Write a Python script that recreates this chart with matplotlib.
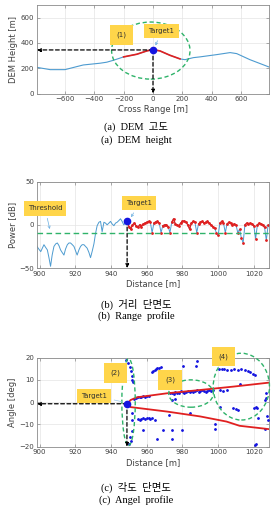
import numpy as np
import matplotlib
matplotlib.use('Agg')
import matplotlib.pyplot as plt
from matplotlib.patches import Ellipse

# ---------------------------------------------------------------------------
# Data
# ---------------------------------------------------------------------------
# (a) DEM height profile
dem_x = [-790, -700, -600, -475, -360, -315, -270, -200, -110, -43, 0,
         48, 115, 184, 218, 275, 320, 434, 525, 570, 660, 790]
dem_h = [207, 189, 189, 226, 240, 248, 263, 290, 311, 337, 348,
         337, 303, 274, 268, 284, 290, 308, 324, 316, 268, 210]
dem_red = (-200, 184)
target_a = (0, 345)

# (b) range profile
rng_blue_x = [898.5, 899.5, 900.6, 901.5, 902.4, 903.3, 904.3, 905.2, 906.1,
              907, 908, 909, 909.9, 910.8, 911.7, 912.6, 913.6, 914.5, 915.5,
              916.4, 917.3, 918.3, 919.2, 920.1, 921, 922, 922.9, 923.8,
              924.8, 925.7, 926.6, 927.6, 928.5, 929.5, 930.4, 931.3, 932.2,
              933.2, 934.1, 935, 936, 936.9, 937.8, 938.8, 939.7, 940.6,
              941.6, 942.5, 943.4, 944.4, 945.3, 946.2, 947.1, 948, 949]
rng_blue_p = [-25, -28, -31, -27, -23, -26, -29, -38, -48,
              -35, -25, -22, -21, -24, -29, -32, -35, -28, -23,
              -21, -21, -23, -25, -30, -35, -29, -25, -23,
              -23, -25, -27, -32, -38, -30, -22, -10, -1,
              3, 4, -8, 3, 2, 0, 2, 4, 1,
              -1, 2, 3, 5, 7, 4, 0, 2, 4.6]
rng_red_x = list(range(949, 1029))
rng_red_p = [4.6, -2, -5, 0, 2, -1, -3, 0, -2, 1,
             2, 3, 4, 3, -9, 2, 3.5, 4, 2, -9,
             -1, 0, 0, -2, -9, 3, 7, 1, 0, -1,
             2, 4, 4.5, 3, 0, -5, 2, 4, 3, -9,
             1, 3, 4, 2, 3, 4, 2, 0, -2, -4,
             -9, -12, 2, 4, 2, -9, 1, 3, 2, 0,
             1, 0, -9, -5, -15, -21, 0, 2, 1, 2,
             1, -1, -16, 0, 2, 1, 0, -3, -18, 0]
threshold = -9
target_b = (949, 4.6)

# (c) angle profile
upper_x = [949, 951, 954.5, 971.3, 990, 1008.4, 1028.5]
upper_y = [-0.7, 1.0, 2.2, 4.0, 5.5, 7.0, 8.8]
lower_x = [949, 951, 971.3, 990, 1004.7, 1012, 1028.5]
lower_y = [-0.7, -2.2, -4.2, -6.4, -8.7, -10.6, -12.1]
target_c = (948.9, -0.7)
scat_x = [948.5, 949.5, 950.5, 951, 951.5, 952, 952.5, 950.8, 951, 950, 952,
          951.5, 952, 953, 954, 955, 956, 957, 958, 959, 960, 961,
          955, 956, 957, 958, 959, 960, 961, 962, 963, 964.5,
          962.9, 963.6, 964.5, 965.3, 966, 967, 968,
          958, 966, 969.3, 972.2, 974, 974, 974, 976, 979.6, 980.2, 984,
          987.6, 988,
          973, 974, 975, 976, 977, 978, 979, 980.4, 981, 982, 983, 984, 985,
          986, 987, 988, 989, 990, 991, 992, 993, 994, 995, 996, 997,
          998.2, 998.5, 1001, 1000.3, 1002, 1003.5, 1005, 1007, 1009, 1011,
          1013, 1015, 1017, 1018, 1019.5, 1020.5, 1001, 1003, 1005, 1008.5,
          1010, 1011, 1012, 1020, 1021, 1022, 1022.4, 1020.6, 1021.4, 1026,
          1027, 1027.5, 1028, 1027, 1026]
scat_y = [19, 17.5, 16, 14, 12, 10, 9, -15.5, -17.5, -19, -13,
          -8, -5, 1.5, 2, 2.2, 2.5, 2.5, 2.7, 2.3, 2.8, 3,
          -7.5, -7.8, -7.5, -7.2, -7.5, -7, -7.3, -7.5, -7.3, -8,
          13.4, 13.8, 14.3, 14.8, 15.2, 15.5, 15.6,
          -12.5, -16.5, -12.3, -5.8, -12.5, -16.5, 1, 1.5, -12.5, 16.3, -4.9,
          16.3, 18.3,
          4, 4.2, 3.8, 4.5, 4, 4.3, 5, 4.6, 4.2, 4.8, 5, 4.5, 5.2,
          4.8, 5, 5.3, 4.8, 5, 5.4, 5.1, 4.7, 5.2, 5.5, 5, 5.4,
          -10, -12, -2, 15, 14.8, 15, 14.5, 14.6, 14.8, 14.5,
          14.7, 14.5, 13.8, 13.5, 12.8, 12.2, 5.3, 5, 5.5, -2.6,
          -3, -3.5, 8.2, -2.5, -2.2, -2.7, -7.3, -19.2, -19, 1,
          2, -6, -8, 4, -12]

# ---------------------------------------------------------------------------
# Styles
# ---------------------------------------------------------------------------
BLUE = '#4d9bd0'
RED = '#e02020'
GREEN = '#2fb36a'
DOT = '#1414e0'
YELLOW = '#ffd54a'
TXT = '#404040'
CAP_FONT = ['Liberation Serif', 'Noto Sans CJK KR']

plt.rcParams['font.family'] = ['DejaVu Sans']

fig = plt.figure(figsize=(2.72, 5.11), dpi=100)


def style_axes(ax):
    ax.grid(True, color='#e4e4e4', lw=0.5)
    ax.set_axisbelow(True)
    for s in ax.spines.values():
        s.set_color('#8a8a8a')
        s.set_linewidth(0.6)
    ax.tick_params(direction='in', length=2, width=0.5, labelsize=5,
                   colors='#8a8a8a', labelcolor=TXT, top=True, right=True,
                   pad=2)


def label_box(ax, text, xy, **kw):
    ax.text(xy[0], xy[1], text, fontsize=5, color='#303030', ha='center',
            va='center', zorder=6,
            bbox=dict(boxstyle='square,pad=0.95', fc=YELLOW, ec='none'), **kw)


def dashed_arrow(ax, start, end):
    ax.annotate('', xy=end, xytext=start, zorder=5, annotation_clip=False,
                arrowprops=dict(arrowstyle='-|>', color='black', lw=0.9,
                                ls=(0, (3, 2)), mutation_scale=5,
                                shrinkA=0, shrinkB=0))


# ---------------------------------------------------------------------------
# (a) DEM height
# ---------------------------------------------------------------------------
ax1 = fig.add_axes([0.136, 0.817, 0.853, 0.173])
style_axes(ax1)
ax1.plot(dem_x, dem_h, color=BLUE, lw=0.8)
dx = np.array(dem_x)
dh = np.array(dem_h)
m = (dx >= dem_red[0]) & (dx <= dem_red[1])
ax1.plot(dx[m], dh[m], color=RED, lw=1.2)
ax1.add_patch(Ellipse((-15, 340), 534, 452, fill=False, ec=GREEN, lw=1.0,
                      ls=(0, (3, 2)), zorder=4))
dashed_arrow(ax1, target_a, (-790, target_a[1]))
dashed_arrow(ax1, target_a, (target_a[0], 0))
ax1.plot(*target_a, 'o', color=DOT, ms=4.5, zorder=6)
label_box(ax1, '(1)', (-213, 465))
ax1.annotate('Target1', xy=(10, 360), xytext=(58, 495), fontsize=5,
             color='#303030', ha='center', va='center', zorder=6,
             bbox=dict(boxstyle='square,pad=0.6', fc=YELLOW, ec='none'),
             arrowprops=dict(arrowstyle='->', color='#6aaee0', lw=0.5,
                             mutation_scale=4))
ax1.set_xlim(-790, 790)
ax1.set_ylim(0, 700)
ax1.set_xticks(np.arange(-600, 601, 200))
ax1.set_yticks(np.arange(0, 601, 200))
ax1.set_xlabel('Cross Range [m]', fontsize=6, color=TXT, labelpad=2)
ax1.set_ylabel('DEM Height [m]', fontsize=6, color=TXT, labelpad=2)

fig.text(0.5, 0.7495, '(a)  DEM  고도', family=CAP_FONT, fontsize=7.5,
         ha='center', va='center')
fig.text(0.5, 0.726, '(a)  DEM  height', family=CAP_FONT, fontsize=7.5,
         ha='center', va='center')

# ---------------------------------------------------------------------------
# (b) Range profile
# ---------------------------------------------------------------------------
ax2 = fig.add_axes([0.136, 0.4755, 0.853, 0.169])
style_axes(ax2)
ax2.plot(rng_blue_x, rng_blue_p, color=BLUE, lw=0.7)
ax2.plot(rng_red_x, rng_red_p, color=BLUE, lw=0.7)
rp = np.array(rng_red_p, dtype=float)
rp_red = np.where(rp > threshold + 1, rp, np.nan)
ax2.plot(rng_red_x, rp_red, color=RED, lw=0.9)
ax2.plot(rng_red_x, rng_red_p, '.', color=RED, ms=2)
ax2.axhline(threshold, color=GREEN, lw=1.0, ls=(0, (4, 2.5)), zorder=4)
dashed_arrow(ax2, target_b, (target_b[0], -50))
ax2.plot(*target_b, 'o', color=DOT, ms=4.5, zorder=6)
ax2.annotate('Target1', xy=(950.5, 6), xytext=(955.6, 25), fontsize=5,
             color='#303030', ha='center', va='center', zorder=6,
             bbox=dict(boxstyle='square,pad=0.6', fc=YELLOW, ec='none'),
             arrowprops=dict(arrowstyle='->', color='#6aaee0', lw=0.5,
                             mutation_scale=4))
ax2.annotate('Threshold', xy=(906, threshold + 1), xytext=(903, 19),
             fontsize=5, color='#303030', ha='center', va='center', zorder=6,
             annotation_clip=False,
             bbox=dict(boxstyle='square,pad=0.6', fc=YELLOW, ec='none'),
             arrowprops=dict(arrowstyle='->', color='#6aaee0', lw=0.5,
                             mutation_scale=4))
ax2.set_xlim(898.5, 1028.5)
ax2.set_ylim(-50, 50)
ax2.set_xticks(np.arange(900, 1021, 20))
ax2.set_yticks([-50, 0, 50])
ax2.set_xlabel('Distance [m]', fontsize=6, color=TXT, labelpad=2)
ax2.set_ylabel('Power [dB]', fontsize=6, color=TXT, labelpad=2)

fig.text(0.5, 0.405, '(b)  거리  단면도', family=CAP_FONT, fontsize=7.5,
         ha='center', va='center')
fig.text(0.5, 0.3816, '(b)  Range  profile', family=CAP_FONT, fontsize=7.5,
         ha='center', va='center')

# ---------------------------------------------------------------------------
# (c) Angle profile
# ---------------------------------------------------------------------------
ax3 = fig.add_axes([0.136, 0.1258, 0.853, 0.1742])
style_axes(ax3)
ax3.plot(scat_x, scat_y, '.', color=DOT, ms=2, zorder=3)
ax3.plot(upper_x, upper_y, color=RED, lw=1.3, zorder=4)
ax3.plot(lower_x, lower_y, color=RED, lw=1.3, zorder=4)
for c, w, h in [((949.8, 0), 7.5, 39), ((984.8, 3.9), 25, 12.3),
                ((1013, 7), 31.5, 30)]:
    ax3.add_patch(Ellipse(c, w, h, fill=False, ec=GREEN, lw=1.0,
                          ls=(0, (3, 2)), zorder=5, clip_on=False))
dashed_arrow(ax3, target_c, (898.5, target_c[1]))
dashed_arrow(ax3, target_c, (target_c[0], -20))
ax3.plot(*target_c, 'o', color=DOT, ms=4.5, zorder=6)
label_box(ax3, '(2)', (942.5, 13.2))
label_box(ax3, '(3)', (973, 10))
label_box(ax3, '(4)', (1003, 20.5), clip_on=False)
ax3.annotate('Target1', xy=(947.5, 0), xytext=(930.6, 2.9), fontsize=5,
             color='#303030', ha='center', va='center', zorder=6,
             bbox=dict(boxstyle='square,pad=0.6', fc=YELLOW, ec='none'),
             arrowprops=dict(arrowstyle='-', color='#9ac8ea', lw=0.5))
ax3.set_xlim(898.5, 1028.5)
ax3.set_ylim(-20, 20)
ax3.set_xticks(np.arange(900, 1021, 20))
ax3.set_yticks(np.arange(-20, 21, 10))
ax3.set_xlabel('Distance [m]', fontsize=6, color=TXT, labelpad=2)
ax3.set_ylabel('Angle [deg]', fontsize=6, color=TXT, labelpad=2)

fig.text(0.5, 0.047, '(c)  각도  단면도', family=CAP_FONT, fontsize=7.5,
         ha='center', va='center')
fig.text(0.5, 0.0215, '(c)  Angel  profile', family=CAP_FONT, fontsize=7.5,
         ha='center', va='center')

fig.savefig('out.png', dpi=100)
